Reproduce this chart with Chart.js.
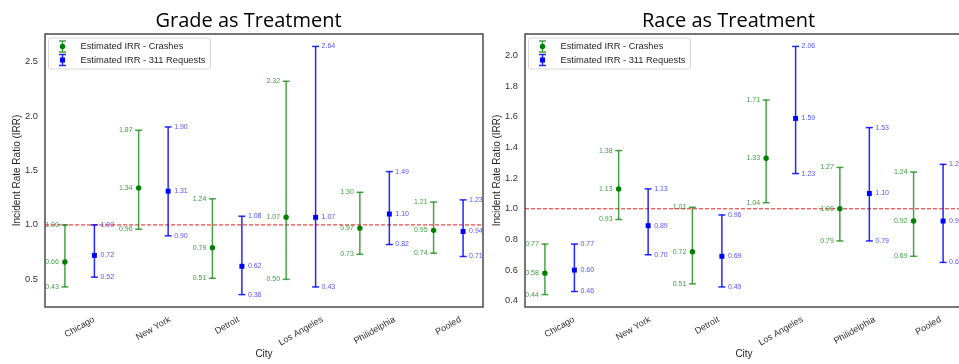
<!DOCTYPE html>
<html>
<head>
<meta charset="utf-8">
<script src="https://cdn.jsdelivr.net/npm/chart.js@4.4.1/dist/chart.umd.min.js"></script>
<style>
  html, body { margin: 0; padding: 0; background: #fff; overflow: hidden; }
  body { width: 959px; height: 364px; position: relative; }
  canvas { position: absolute; top: 0; }
  #gradeChart { left: 0; }
  #raceChart { left: 480px; }
</style>
</head>
<body>
<canvas id="gradeChart" width="497" height="364"></canvas>
<canvas id="raceChart" width="498" height="364"></canvas>
<script>
// Incident rate ratios by city, two treatments
const cities = ['Chicago', 'New York', 'Detroit', 'Los Angeles', 'Philidelphia', 'Pooled'];
const refIRR = 1.0;

// Grade as treatment
const gradeCrashIRR  = [0.66, 1.34, 0.79, 1.07, 0.97, 0.95];
const gradeCrashLow  = [0.43, 0.96, 0.51, 0.50, 0.73, 0.74];
const gradeCrashHigh = [1.00, 1.87, 1.24, 2.32, 1.30, 1.21];
const gradeReqIRR    = [0.72, 1.31, 0.62, 1.07, 1.10, 0.94];
const gradeReqLow    = [0.52, 0.90, 0.36, 0.43, 0.82, 0.71];
const gradeReqHigh   = [1.00, 1.90, 1.08, 2.64, 1.49, 1.23];
const gradeYTicks    = [0.5, 1.0, 1.5, 2.0, 2.5];

// Race as treatment
const raceCrashIRR  = [0.58, 1.13, 0.72, 1.33, 1.00, 0.92];
const raceCrashLow  = [0.44, 0.93, 0.51, 1.04, 0.79, 0.69];
const raceCrashHigh = [0.77, 1.38, 1.01, 1.71, 1.27, 1.24];
const raceReqIRR    = [0.60, 0.89, 0.69, 1.59, 1.10, 0.92];
const raceReqLow    = [0.46, 0.70, 0.49, 1.23, 0.79, 0.65];
const raceReqHigh   = [0.77, 1.13, 0.96, 2.06, 1.53, 1.29];
const raceYTicks    = [0.4, 0.6, 0.8, 1.0, 1.2, 1.4, 1.6, 1.8, 2.0];

const legendLabels = ['Estimated IRR - Crashes', 'Estimated IRR - 311 Requests'];

const FONT = "'Liberation Sans', Arial, sans-serif";
const GREEN = '#008000', GREEN_BAR = 'rgba(0,128,0,0.72)', GREEN_TXT = 'rgba(0,128,0,0.75)';
const BLUE = '#0000ff', BLUE_BAR = 'rgba(0,0,255,0.85)', BLUE_TXT = 'rgba(0,0,255,0.7)';
const OFFSET = 0.2;

function barPoints(low, high, off) {
  const pts = [];
  low.forEach((lo, i) => {
    pts.push({ x: i + off, y: lo }, { x: i + off, y: high[i] }, { x: i + off, y: null });
  });
  return pts;
}

function padRange(lows, highs) {
  const lo = Math.min(...lows), hi = Math.max(...highs);
  const m = (hi - lo) * 0.05;
  return [lo - m, hi + m];
}

function drawIcon(ctx, cx, cy, color, barColor, style) {
  ctx.strokeStyle = barColor;
  ctx.lineWidth = 1.5;
  ctx.beginPath();
  ctx.moveTo(cx, cy - 5.5); ctx.lineTo(cx, cy + 5.5);
  ctx.moveTo(cx - 3.5, cy - 5.5); ctx.lineTo(cx + 3.5, cy - 5.5);
  ctx.moveTo(cx - 3.5, cy + 5.5); ctx.lineTo(cx + 3.5, cy + 5.5);
  ctx.stroke();
  ctx.fillStyle = color;
  if (style === 'circle') {
    ctx.beginPath(); ctx.arc(cx, cy, 2.7, 0, Math.PI * 2); ctx.fill();
  } else {
    ctx.fillRect(cx - 2.5, cy - 2.5, 5, 5);
  }
}

const irrDecor = {
  id: 'irrDecor',
  afterDatasetsDraw(chart, args, opts) {
    const { ctx, chartArea: a, scales: { x, y } } = chart;
    ctx.save();

    // value labels next to every bar
    ctx.font = '7px ' + FONT;
    ctx.textBaseline = 'middle';
    opts.series.forEach(s => {
      ctx.fillStyle = s.textColor;
      ctx.textAlign = s.side < 0 ? 'right' : 'left';
      s.est.forEach((v, i) => {
        const px = x.getPixelForValue(i + s.offset) + s.side * 6;
        [s.low[i], v, s.high[i]].forEach(val => {
          ctx.fillText(val.toFixed(2), px, y.getPixelForValue(val));
        });
      });
    });

    // frame
    ctx.strokeStyle = '#4a4a4a';
    ctx.lineWidth = 1.5;
    ctx.strokeRect(a.left, a.top, a.right - a.left, a.bottom - a.top);

    // title, sits a little left of the plot centre as in the original figure
    ctx.font = "20px 'Open Sans', sans-serif";
    ctx.fillStyle = '#000';
    ctx.textAlign = 'center';
    ctx.textBaseline = 'alphabetic';
    ctx.fillText(opts.title, (a.left + a.right) / 2 - 15.5, 26.5);

    // rotated city labels, centred on the tick
    ctx.font = '9px ' + FONT;
    ctx.fillStyle = '#333';
    ctx.textAlign = 'center';
    ctx.textBaseline = 'middle';
    const ang = Math.PI / 6;
    cities.forEach((c, i) => {
      const w = ctx.measureText(c).width;
      const h = w * Math.sin(ang) + 9 * Math.cos(ang);
      ctx.save();
      ctx.translate(x.getPixelForValue(i), a.bottom + 8 + h / 2);
      ctx.rotate(-ang);
      ctx.fillText(c, 0, 0);
      ctx.restore();
    });

    // legend
    const lx = a.left + 3.5, ly = a.top + 4, lw = 162, lh = 31;
    ctx.fillStyle = 'rgba(255,255,255,0.8)';
    ctx.strokeStyle = '#d6d6d6';
    ctx.lineWidth = 1;
    ctx.beginPath();
    ctx.roundRect(lx, ly, lw, lh, 2);
    ctx.fill(); ctx.stroke();
    drawIcon(ctx, lx + 14, ly + 8.5, GREEN, GREEN_BAR, 'circle');
    drawIcon(ctx, lx + 14, ly + 22, BLUE, BLUE_BAR, 'rect');
    ctx.font = '9.3px ' + FONT;
    ctx.fillStyle = '#262626';
    ctx.textAlign = 'left';
    ctx.fillText(legendLabels[0], lx + 32, ly + 8.5);
    ctx.fillText(legendLabels[1], lx + 32, ly + 22);

    ctx.restore();
  }
};

function makeChart(id, title, crash, req, yTicks, rightPad) {
  const [ymin, ymax] = padRange(crash.low.concat(req.low), crash.high.concat(req.high));
  const xmin = -OFFSET - (cities.length - 1 + 2 * OFFSET) * 0.05;
  const xmax = cities.length - 1 + OFFSET + (cities.length - 1 + 2 * OFFSET) * 0.05;

  return new Chart(document.getElementById(id), {
    type: 'scatter',
    data: {
      datasets: [
        {
          label: 'ref', type: 'line', order: 10,
          data: [{ x: xmin, y: refIRR }, { x: xmax, y: refIRR }],
          borderColor: 'rgba(235,0,0,0.9)', borderWidth: 1, borderDash: [4, 2],
          pointRadius: 0
        },
        {
          label: 'crash bars', order: 4, showLine: true,
          data: barPoints(crash.low, crash.high, -OFFSET),
          borderColor: GREEN_BAR, borderWidth: 1.5,
          pointStyle: 'line', pointRadius: 3.5, pointBorderWidth: 1.5,
          pointBorderColor: GREEN_BAR
        },
        {
          label: legendLabels[0], order: 3,
          data: crash.est.map((v, i) => ({ x: i - OFFSET, y: v })),
          pointStyle: 'circle', pointRadius: 2.7, pointBorderWidth: 0,
          backgroundColor: GREEN
        },
        {
          label: 'request bars', order: 2, showLine: true,
          data: barPoints(req.low, req.high, OFFSET),
          borderColor: BLUE_BAR, borderWidth: 1.5,
          pointStyle: 'line', pointRadius: 3.5, pointBorderWidth: 1.5,
          pointBorderColor: BLUE_BAR
        },
        {
          label: legendLabels[1], order: 1,
          data: req.est.map((v, i) => ({ x: i + OFFSET, y: v })),
          pointStyle: 'rect', pointRadius: 3.5, pointBorderWidth: 0,
          backgroundColor: BLUE
        }
      ]
    },
    options: {
      responsive: false,
      animation: false,
      devicePixelRatio: 1,
      events: [],
      layout: { padding: { left: 0, right: rightPad, top: 34, bottom: 0 } },
      scales: {
        x: {
          type: 'linear', min: xmin, max: xmax,
          grid: { display: false, drawTicks: false },
          border: { display: false },
          ticks: { display: false },
          title: { display: true, text: 'City', color: '#262626', font: { family: FONT, size: 10 }, padding: { top: 0, bottom: 4 } },
          afterFit: s => { s.height = 57; }
        },
        y: {
          min: ymin, max: ymax,
          grid: { display: false, drawTicks: false },
          border: { display: false },
          afterBuildTicks: s => { s.ticks = yTicks.map(v => ({ value: v })); },
          ticks: { padding: 7, color: '#333', font: { family: FONT, size: 9.3 }, callback: v => v.toFixed(1) },
          title: { display: true, text: 'Incident Rate Ratio (IRR)', color: '#262626', font: { family: FONT, size: 10 }, padding: { top: 11, bottom: 0 } },
          afterFit: s => { s.width = 45; }
        }
      },
      plugins: {
        legend: { display: false },
        tooltip: { enabled: false },
        title: { display: false },
        irrDecor: {
          title: title,
          series: [
            { est: crash.est, low: crash.low, high: crash.high, offset: -OFFSET, side: -1, textColor: GREEN_TXT },
            { est: req.est, low: req.low, high: req.high, offset: OFFSET, side: 1, textColor: BLUE_TXT }
          ]
        }
      }
    },
    plugins: [irrDecor]
  });
}

makeChart('gradeChart', 'Grade as Treatment',
  { est: gradeCrashIRR, low: gradeCrashLow, high: gradeCrashHigh },
  { est: gradeReqIRR, low: gradeReqLow, high: gradeReqHigh },
  gradeYTicks, 14);

makeChart('raceChart', 'Race as Treatment',
  { est: raceCrashIRR, low: raceCrashLow, high: raceCrashHigh },
  { est: raceReqIRR, low: raceReqLow, high: raceReqHigh },
  raceYTicks, 15);
</script>
</body>
</html>
